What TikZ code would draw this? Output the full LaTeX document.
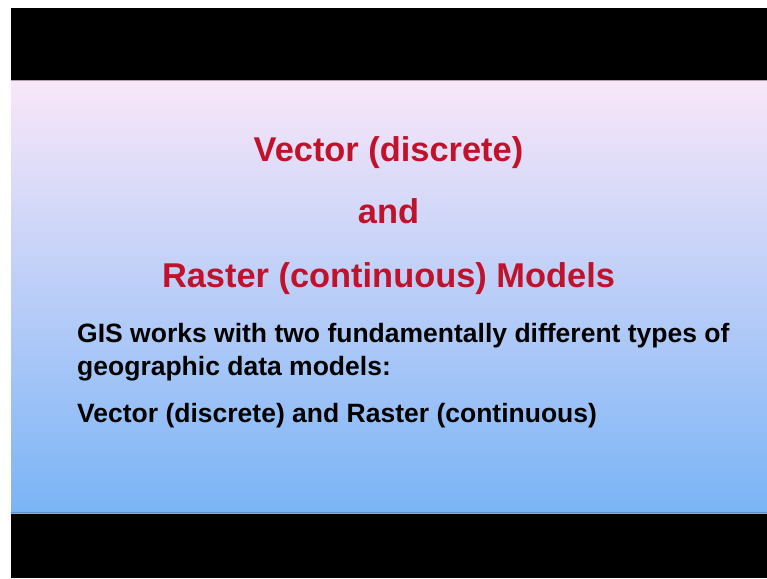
\documentclass[tikz,border=0pt]{standalone}
\usepackage{fontspec}
\setmainfont{Liberation Sans}
\definecolor{titlered}{HTML}{C0122A}
\definecolor{slidetop}{HTML}{F9E7F9}
\definecolor{slidemid}{HTML}{C4CCF4}
\definecolor{slidebot}{HTML}{7AB4F6}

\begin{document}
\begin{tikzpicture}[x=1pt,y=-1pt,
            title/.style={anchor=base, text=titlered, font=\bfseries\fontsize{34.4}{40}\selectfont, inner sep=0pt},
            body/.style={anchor=base west, text=black, font=\bfseries\fontsize{26.5}{30}\selectfont, inner sep=0pt}
        ]
            \useasboundingbox (0,0) rectangle (767,578);

            % Black frame round the slide
            \fill[black] (11,8) rectangle (767,578);

            % Slide background
            \shade[top color=slidetop, middle color=slidemid, bottom color=slidebot] (11,80) rectangle (767,513);
            \draw[draw=black!30!slidetop, line width=0.8pt] (11,80.4) -- (767,80.4);
            \draw[draw=black!20!slidebot, line width=0.8pt] (11,512.6) -- (767,512.6);

            % Title lines
            \node[title] (vector) at (388.5,161) {Vector (discrete)};
            \node[title] (and) at (388.5,223) {and};
            \node[title] (raster) at (388.5,287) {Raster (continuous) Models};

            % Body text
            \node[body] (intro) at (77,342) {GIS works with two fundamentally different types of};
            \node[body] (introb) at (77,375) {geographic data models:};
            \node[body] (types) at (77,422) {Vector (discrete) and Raster (continuous)};
        \end{tikzpicture}
\end{document}
